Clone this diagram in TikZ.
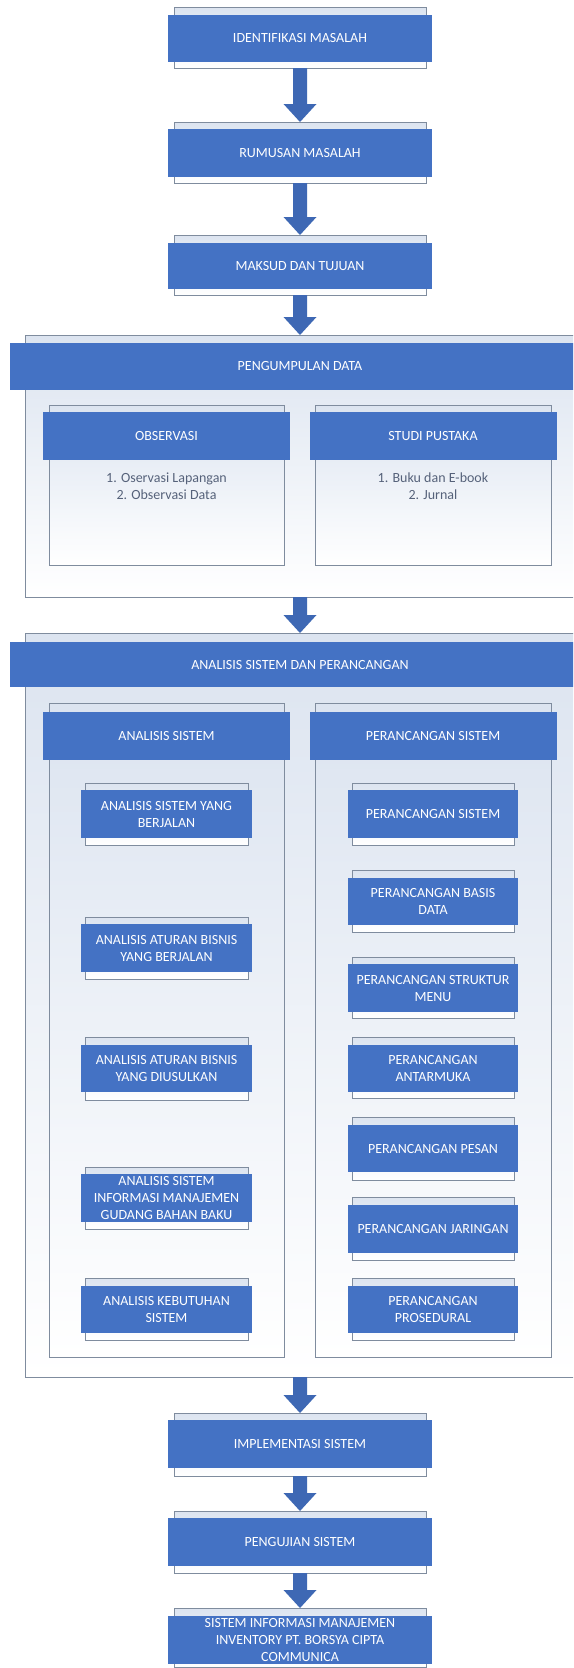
\documentclass[tikz,border=0pt]{standalone}
\usepackage{fontspec}
\setmainfont{Carlito}
\usetikzlibrary{calc}
\definecolor{bandblue}{HTML}{4472C4}
\definecolor{arrowblue}{HTML}{3E68B4}
\definecolor{framegray}{HTML}{7F8C9E}
\definecolor{frametop}{HTML}{DCE4F0}
\definecolor{listgray}{HTML}{56627A}
\tikzset{
  framebox/.style={rectangle, draw=framegray, line width=0.8pt, top color=frametop, bottom color=white, inner sep=0pt, outer sep=0pt},
  bandbox/.style={rectangle, fill=bandblue, text=white, inner sep=0pt, outer sep=0pt, align=center, font={\fontsize{14}{17}\selectfont}},
  listtext/.style={text=listgray, align=center, inner sep=0pt, font={\fontsize{14}{17}\selectfont}},
  arrowfill/.style={fill=arrowblue}
}
\newcommand\pbox[9]{%
  \node[framebox, minimum width=#3pt, minimum height={(#8-#5)*1pt}] (#1f) at (#2,{(#5+#8)/2}) {};
  \node[bandbox, minimum width=#4pt, minimum height={(#7-#6)*1pt}] (#1) at (#2,{(#6+#7)/2}) {#9};
}
\newcommand\flowarrow[2]{%
  \fill[arrowfill] let \p1=(#1.south), \p2=(#2.north) in
    (\x1-7pt,\y1) -- (\x1+7pt,\y1) -- (\x1+7pt,\y2+18pt) -- (\x1+16.5pt,\y2+18pt)
    -- (\x1,\y2) -- (\x1-16.5pt,\y2+18pt) -- (\x1-7pt,\y2+18pt) -- cycle;
}
\begin{document}
\begin{tikzpicture}[x=1pt,y=-1pt]
\useasboundingbox (0,0) rectangle (573,1668);
\fill[white] (0,0) rectangle (573,1668);
\clip (0,0) rectangle (573,1668);
% main column
\pbox{b1}{300}{252}{264}{7}{15}{62}{68}{IDENTIFIKASI MASALAH}
\pbox{b2}{300}{252}{264}{122}{129}{177}{183}{RUMUSAN MASALAH}
\pbox{b3}{300}{252}{264}{235}{243}{289}{295}{MAKSUD DAN TUJUAN}
% pengumpulan data
\pbox{g1}{300}{550}{580}{335}{343}{390}{597}{PENGUMPULAN DATA}
\pbox{s1}{166.5}{235}{247}{405}{412}{460}{565}{OBSERVASI}
\pbox{s2}{433}{236}{247}{405}{412}{460}{565}{STUDI PUSTAKA}
\node[listtext] (t1) at (166.5,486.5) {1. Oservasi Lapangan\\2. Observasi Data};
\node[listtext] (t2) at (433,486.5) {1. Buku dan E-book\\2. Jurnal};
% analisis
\pbox{g2}{300}{550}{580}{633}{642}{687}{1377}{ANALISIS SISTEM DAN PERANCANGAN}
\pbox{s3}{166.5}{235}{247}{703}{712}{760}{1357}{ANALISIS SISTEM}
\pbox{s4}{433}{236}{247}{703}{712}{760}{1357}{PERANCANGAN SISTEM}
\pbox{l1}{166.5}{163}{171}{783}{790}{838}{845}{ANALISIS SISTEM YANG\\BERJALAN}
\pbox{l2}{166.5}{163}{171}{917}{924}{972}{979}{ANALISIS ATURAN BISNIS\\YANG BERJALAN}
\pbox{l3}{166.5}{163}{171}{1037}{1045}{1092}{1100}{ANALISIS ATURAN BISNIS\\YANG DIUSULKAN}
\pbox{l4}{166.5}{163}{171}{1167}{1174}{1222}{1229}{ANALISIS SISTEM\\INFORMASI MANAJEMEN\\GUDANG BAHAN BAKU}
\pbox{l5}{166.5}{163}{171}{1278}{1286}{1333}{1340}{ANALISIS KEBUTUHAN\\SISTEM}
\pbox{r1}{433}{162}{170}{783}{790}{838}{845}{PERANCANGAN SISTEM}
\pbox{r2}{433}{162}{170}{870}{878}{925}{932}{PERANCANGAN BASIS\\DATA}
\pbox{r3}{433}{162}{170}{957}{964}{1012}{1018}{PERANCANGAN STRUKTUR\\MENU}
\pbox{r4}{433}{162}{170}{1037}{1045}{1092}{1098}{PERANCANGAN\\ANTARMUKA}
\pbox{r5}{433}{162}{170}{1117}{1125}{1172}{1180}{PERANCANGAN PESAN}
\pbox{r6}{433}{162}{170}{1197}{1205}{1253}{1260}{PERANCANGAN JARINGAN}
\pbox{r7}{433}{162}{170}{1278}{1286}{1333}{1340}{PERANCANGAN\\PROSEDURAL}
% bottom column
\pbox{b4}{300}{252}{264}{1413}{1420}{1468}{1476}{IMPLEMENTASI SISTEM}
\pbox{b5}{300}{252}{264}{1511}{1518}{1566}{1573}{PENGUJIAN SISTEM}
\pbox{b6}{300}{252}{264}{1608}{1616}{1664}{1667}{SISTEM INFORMASI MANAJEMEN\\INVENTORY PT. BORSYA CIPTA\\COMMUNICA}
% arrows
\flowarrow{b1f}{b2f}
\flowarrow{b2f}{b3f}
\flowarrow{b3f}{g1f}
\flowarrow{g1f}{g2f}
\flowarrow{g2f}{b4f}
\flowarrow{b4f}{b5f}
\flowarrow{b5f}{b6f}
\end{tikzpicture}
\end{document}
